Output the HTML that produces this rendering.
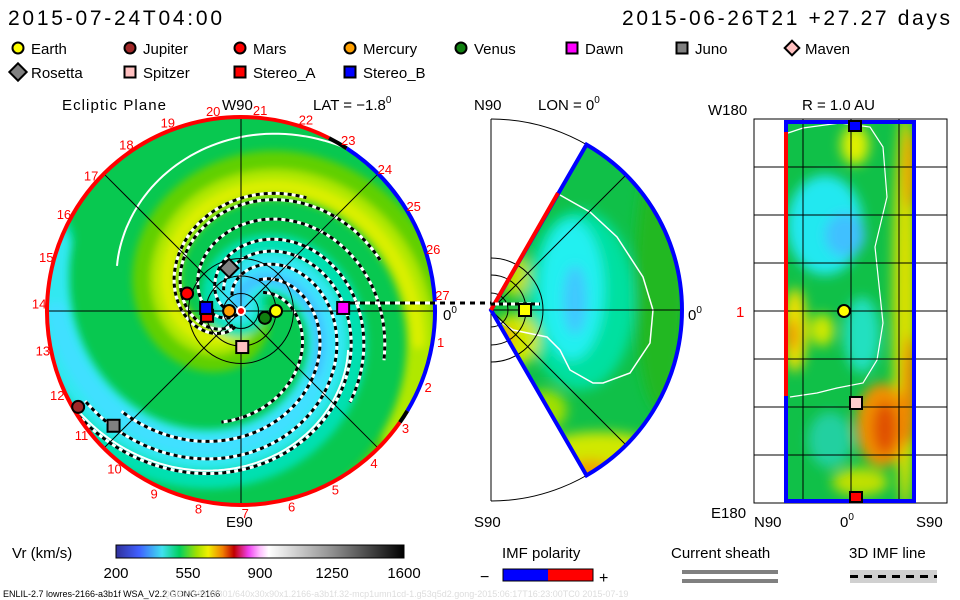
<!DOCTYPE html>
<html><head><meta charset="utf-8"><style>
html,body{margin:0;padding:0;background:#fff;}
svg{display:block;font-family:"Liberation Sans","DejaVu Sans",sans-serif;}
</style></head><body>
<svg id="chart" width="960" height="600" viewBox="0 0 960 600">
<defs>
  <clipPath id="diskClip"><circle cx="241" cy="311" r="194"/></clipPath>
  <clipPath id="wedgeClip"><path d="M491,310 L586.5,144.6 A191,191 0 0 1 586.5,475.4 Z"/></clipPath>
  <clipPath id="rectClip"><rect x="785" y="122" width="130" height="380"/></clipPath>
  <filter id="blur6" x="-50%" y="-50%" width="200%" height="200%"><feGaussianBlur stdDeviation="6"/></filter>
  <filter id="blur3" x="-50%" y="-50%" width="200%" height="200%"><feGaussianBlur stdDeviation="4"/></filter>
  <linearGradient id="cbar" x1="0" x2="1" y1="0" y2="0">
    <stop offset="0" stop-color="#30309a"/><stop offset="0.08" stop-color="#4060ff"/>
    <stop offset="0.16" stop-color="#40e0f0"/><stop offset="0.22" stop-color="#00d060"/>
    <stop offset="0.28" stop-color="#a0e000"/><stop offset="0.32" stop-color="#f0f000"/>
    <stop offset="0.37" stop-color="#f08000"/><stop offset="0.41" stop-color="#c00000"/>
    <stop offset="0.46" stop-color="#f040f0"/><stop offset="0.5" stop-color="#ffc0ff"/>
    <stop offset="0.53" stop-color="#ffffff"/><stop offset="0.75" stop-color="#909090"/>
    <stop offset="1" stop-color="#000000"/>
  </linearGradient>
</defs>

<text x="8" y="25" font-size="21" textLength="214">2015-07-24T04:00</text>
<text x="622" y="25" font-size="21" textLength="328">2015-06-26T21 +27.27 days</text>

<g id="legend" font-size="15"></g>

<text x="62" y="110" font-size="15" textLength="104">Ecliptic Plane</text>
<text x="222" y="110" font-size="15">W90</text>
<text x="313" y="110" font-size="15">LAT = −1.8<tspan font-size="10" dy="-7">0</tspan></text>
<text x="474" y="110" font-size="15">N90</text>
<text x="538" y="110" font-size="15">LON = 0<tspan font-size="10" dy="-7">0</tspan></text>
<text x="708" y="115" font-size="15">W180</text>
<text x="802" y="110" font-size="15">R = 1.0 AU</text>

<g id="disk">
  <g clip-path="url(#diskClip)">
    <circle cx="241" cy="311" r="194" fill="#08c850"/>
    <g id="bands"></g>
    <g id="dashes"></g>
  </g>
  <g id="diskGrid" stroke="#000" stroke-width="1"></g>
  <g id="diskBorder"></g>
  <g id="diskLabels" font-size="13" fill="#f00"></g>
  <g id="planets"></g>
</g>
<text x="443" y="320" font-size="15">0<tspan font-size="10" dy="-7">0</tspan></text>
<text x="226" y="527" font-size="15">E90</text>

<g id="wedge">
  <path d="M491,119 A191,191 0 0 1 491,501" fill="none" stroke="#000" stroke-width="1"/>
  <line x1="491" y1="119" x2="491" y2="501" stroke="#000"/>
  <g clip-path="url(#wedgeClip)">
    <rect x="480" y="130" width="210" height="360" fill="#10c048"/>
    <g filter="url(#blur6)">
      <ellipse cx="660" cy="280" rx="25" ry="130" fill="#20b820"/>
      <ellipse cx="580" cy="300" rx="55" ry="90" fill="#00e0a0"/>
      <ellipse cx="572" cy="290" rx="32" ry="70" fill="#20f0f0"/>
      <ellipse cx="575" cy="300" rx="12" ry="35" fill="#40c8ff"/>
      <ellipse cx="600" cy="460" rx="70" ry="28" fill="#d0e800"/>
      <ellipse cx="590" cy="472" rx="25" ry="12" fill="#f0a000"/>
      <ellipse cx="515" cy="340" rx="24" ry="26" fill="#d0e800"/>
      <ellipse cx="503" cy="338" rx="10" ry="12" fill="#f0a000"/>
      <ellipse cx="515" cy="275" rx="14" ry="22" fill="#c0e000"/>
      <ellipse cx="545" cy="410" rx="22" ry="20" fill="#a0e000"/>
    </g>
    <path d="M560,195 L590,212 L617,237 L643,277 L653,310 L650,343 L630,373 L603,383 L593,383 L570,370 L560,350 L547,337 L513,330 L493,317" fill="none" stroke="#fff" stroke-width="1.5"/>
    <line x1="491" y1="310" x2="626" y2="175" stroke="#000"/>
    <line x1="491" y1="310" x2="626" y2="445" stroke="#000"/>
    <line x1="491" y1="310" x2="682" y2="310" stroke="#000"/>
  </g>
  <g fill="none" stroke="#000" stroke-width="1">
    <path d="M491,293 A17,17 0 0 1 491,327"/>
    <path d="M491,275 A35,35 0 0 1 491,345"/>
    <path d="M491,258 A52,52 0 0 1 491,362"/>
  </g>
  <path d="M491,310 L586.5,144.6 A191,191 0 0 1 586.5,475.4 Z" fill="none" stroke="#00f" stroke-width="4"/>
  <line x1="491" y1="310" x2="558" y2="193" stroke="#f00" stroke-width="4"/>
  <line x1="491" y1="304" x2="540" y2="304" stroke="#fff" stroke-width="3"/>
  <line x1="491" y1="304" x2="540" y2="304" stroke="#000" stroke-width="3" stroke-dasharray="4,4"/>
  <rect x="519" y="304" width="12" height="12" fill="#ff0" stroke="#000" stroke-width="2"/>
</g>
<text x="688" y="320" font-size="15">0<tspan font-size="10" dy="-7">0</tspan></text>
<text x="474" y="527" font-size="15">S90</text>

<g id="rpanel">
  <g clip-path="url(#rectClip)">
    <rect x="785" y="122" width="130" height="380" fill="#10c048"/>
    <g filter="url(#blur6)">
      <ellipse cx="905" cy="310" rx="12" ry="200" fill="#d8e000"/>
      <ellipse cx="910" cy="170" rx="7" ry="40" fill="#f0a000"/>
      <ellipse cx="910" cy="390" rx="7" ry="55" fill="#f08000"/>
      <ellipse cx="825" cy="225" rx="38" ry="50" fill="#20e8f0"/>
      <ellipse cx="845" cy="235" rx="20" ry="22" fill="#40c0ff"/>
      <ellipse cx="855" cy="145" rx="14" ry="20" fill="#e0f000"/>
      <ellipse cx="795" cy="330" rx="12" ry="42" fill="#f0e000"/>
      <ellipse cx="792" cy="335" rx="6" ry="16" fill="#f09000"/>
      <ellipse cx="822" cy="330" rx="12" ry="16" fill="#d0e800"/>
      <ellipse cx="862" cy="335" rx="18" ry="38" fill="#20e0c0"/>
      <ellipse cx="882" cy="425" rx="26" ry="42" fill="#f09000"/>
      <ellipse cx="885" cy="428" rx="12" ry="26" fill="#e05000"/>
      <ellipse cx="830" cy="440" rx="22" ry="28" fill="#20d0a0"/>
      <ellipse cx="860" cy="482" rx="28" ry="14" fill="#c0e000"/>
    </g>
    <path d="M788,133 L803,128 L840,123 L870,127 L883,147 L887,197 L875,247 L883,323 L877,360 L863,383 L837,388 L817,393 L790,397" fill="none" stroke="#fff" stroke-width="1.2"/>
  </g>
  <g id="rgrid" stroke="#000" stroke-width="1"></g>
  <rect x="754" y="119" width="193" height="384" fill="none" stroke="#000"/>
  <rect x="786" y="122" width="128" height="379" fill="none" stroke="#00f" stroke-width="4"/>
  <line x1="786" y1="132" x2="786" y2="396" stroke="#f00" stroke-width="4"/>
  <rect x="849" y="121" width="12" height="10" fill="#00f" stroke="#000" stroke-width="2"/>
  <circle cx="844" cy="311" r="6" fill="#ff0" stroke="#000" stroke-width="2"/>
  <rect x="850" y="397" width="12" height="12" fill="#fcc" stroke="#000" stroke-width="2"/>
  <rect x="850" y="492" width="12" height="10" fill="#f00" stroke="#000" stroke-width="2"/>
</g>
<text x="736" y="317" font-size="15" fill="#f00">1</text>
<text x="711" y="518" font-size="15">E180</text>
<text x="754" y="527" font-size="15">N90</text>
<text x="840" y="527" font-size="15">0<tspan font-size="10" dy="-7">0</tspan></text>
<text x="916" y="527" font-size="15">S90</text>

<text x="12" y="558" font-size="15">Vr (km/s)</text>
<rect x="116" y="545" width="288" height="13" fill="url(#cbar)" stroke="#000"/>
<g id="cbTicks" font-size="15" text-anchor="middle"></g>
<text x="502" y="558" font-size="15">IMF polarity</text>
<text x="480" y="582" font-size="16">−</text>
<rect x="503" y="569" width="45" height="12" fill="#00f"/>
<rect x="548" y="569" width="45" height="12" fill="#f00"/>
<rect x="503" y="569" width="90" height="12" fill="none" stroke="#000"/>
<text x="599" y="583" font-size="16">+</text>
<text x="671" y="558" font-size="15">Current sheath</text>
<rect x="682" y="570" width="96" height="4" fill="#808080"/>
<rect x="682" y="579" width="96" height="4" fill="#808080"/>
<text x="849" y="558" font-size="15">3D IMF line</text>
<rect x="850" y="570" width="87" height="13" fill="#d0d0d0"/>
<line x1="850" y1="576.5" x2="937" y2="576.5" stroke="#000" stroke-width="3" stroke-dasharray="8,6"/>
<text x="3" y="597" font-size="9">ENLIL-2.7 lowres-2166-a3b1f WSA_V2.2 GONG-2166</text>
<text x="163" y="597" font-size="9" fill="#ddd">QUE0719102801/640x30x90x1.2166-a3b1f.32-mcp1umn1cd-1.g53q5d2.gong-2015:06:17T16:23:00TC0    2015-07-19</text>
</svg>
<script>
// ---- data ----
const objNames = ["Earth","Jupiter","Mars","Mercury","Venus","Dawn","Juno","Maven","Rosetta","Spitzer","Stereo_A","Stereo_B"];
const objShapes = ["circle","circle","circle","circle","circle","square","square","diamond","diamond","square","square","square"];
const objColors = ["#ffff00","#a02828","#ff0000","#ffa000","#108010","#ff00ff","#808080","#ffc0c0","#808080","#ffc0c0","#ff0000","#0000ff"];
const plNames = ["Earth","Venus","Mercury","Mars","Jupiter","Rosetta","Juno","Dawn","Spitzer","Stereo_A","Stereo_B"];
const plDist  = [1.0, 0.71, 0.34, 1.62, 5.4, 1.27, 4.9, 2.92, 1.03, 0.98, 1.0];
const plLon   = [0, -16, 180, 162, 210.5, 105.5, 222, 1.7, -88, 188, 175];
const cbTickValues = [200, 550, 900, 1250, 1600];
const rotationLabels = [1,2,3,4,5,6,7,8,9,10,11,12,13,14,15,16,17,18,19,20,21,22,23,24,25,26,27];
const refRings = [0.5, 1.0, 1.5];
// spiral speed bands: phase (deg), end angle, colour, width
const bandPhase = [310, 295, 290, 150, 135, 128, 120];
const bandEnd   = [-60, -40, -10, -200, -200, -180, -40];
const bandColor = ["#60d000","#b0e800","#dcf000","#00e0b0","#30e8f0","#40e0ff","#40c0ff"];
const bandWidth = [48, 28, 12, 60, 38, 20, 10];
// dashed IMF spirals: phase, start angle, end angle
const dashPhase = [197, 233, 267, 278, 150, 175, 120, 88];
const dashStart = [180, 225, 240, 250, 120, 130, 60, 40];
const dashEnd   = [-40, -20, 20, 60, -150, -160, -140, -100];

const NS = "http://www.w3.org/2000/svg";
const CX = 241, CY = 311, R = 194, PX_PER_AU = 35, K = 0.6;
function mk(tag, attrs, parent){const e=document.createElementNS(NS,tag);for(const k in attrs)e.setAttribute(k,attrs[k]);parent.appendChild(e);return e;}
function xOf(r,a){return CX + r*Math.cos(a*Math.PI/180);}
function yOf(r,a){return CY - r*Math.sin(a*Math.PI/180);}
function spiral(phase,a0,a1){const pts=[];for(let a=a0;a>=a1;a-=2){const r=K*(phase-a);if(r<3||r>R+40)continue;pts.push(xOf(r,a).toFixed(1)+","+yOf(r,a).toFixed(1));}return pts.join(" ");}

const bands=document.getElementById("bands");
const bg=mk("g",{filter:"url(#blur3)"},bands);
for(let i=0;i<bandPhase.length;i++){
  const el=mk("polyline",{points:spiral(bandPhase[i],bandPhase[i]-10,bandEnd[i]),fill:"none",stroke:bandColor[i],"stroke-width":bandWidth[i],"stroke-linecap":"round"},bg);
  
  
}
const w1=mk("polyline",{points:spiral(380,160,-10),fill:"none",stroke:"#fff","stroke-width":2},bands);


const w2=mk("polyline",{points:spiral(170,-20,-170),fill:"none",stroke:"#fff","stroke-width":2},bands);


const dashes=document.getElementById("dashes");
for(let i=0;i<dashPhase.length;i++){
  const p=spiral(dashPhase[i],dashStart[i],dashEnd[i]);
  mk("polyline",{points:p,fill:"none",stroke:"#fff","stroke-width":3},dashes);
  const d=mk("polyline",{points:p,fill:"none",stroke:"#000","stroke-width":3,"stroke-dasharray":"4,4"},dashes);
  
  
}
mk("line",{x1:350,y1:303,x2:491,y2:303,stroke:"#fff","stroke-width":3},document.getElementById("disk"));
const dl=mk("line",{x1:350,y1:303,x2:491,y2:303,stroke:"#000","stroke-width":3,"stroke-dasharray":"5,5"},document.getElementById("disk"));



const dg=document.getElementById("diskGrid");
for(const a of [0,45,90,135]){mk("line",{x1:xOf(R,a),y1:yOf(R,a),x2:xOf(R,a+180),y2:yOf(R,a+180)},dg);}
for(const rr of refRings){mk("circle",{cx:CX,cy:CY,r:rr*PX_PER_AU,fill:"none"},dg);}
const db=document.getElementById("diskBorder");
function arc(a0,a1){const large=Math.abs(a1-a0)>180?1:0;return `M${xOf(R,a0)},${yOf(R,a0)} A${R},${R} 0 ${large} ${a1<a0?1:0} ${xOf(R,a1)},${yOf(R,a1)}`;}
const rb=mk("path",{d:arc(-35,-297),fill:"none",stroke:"#f00","stroke-width":4},db);


const bb=mk("path",{d:arc(57,-31),fill:"none",stroke:"#00f","stroke-width":4},db);


mk("path",{d:arc(63,57),fill:"none",stroke:"#000","stroke-width":4},db);
mk("path",{d:arc(-31,-35),fill:"none",stroke:"#000","stroke-width":4},db);
const dlab=document.getElementById("diskLabels");
rotationLabels.forEach(k=>{
  const a=4.6+(27-k)*13.33;
  const t=mk("text",{x:xOf(R+8,a),y:yOf(R+8,a)+5,"text-anchor":"middle"},dlab);
  t.textContent=k;
  
  
});
function marker(parent,shape,color,x,y,s){
  if(shape==="circle") return mk("circle",{cx:x,cy:y,r:s/2,fill:color,stroke:"#000","stroke-width":2},parent);
  if(shape==="square") return mk("rect",{x:x-s/2,y:y-s/2,width:s,height:s,fill:color,stroke:"#000","stroke-width":2},parent);
  return mk("path",{d:`M${x},${y-s/1.5} L${x+s/1.5},${y} L${x},${y+s/1.5} L${x-s/1.5},${y} Z`,fill:color,stroke:"#000","stroke-width":2},parent);
}
const pg=document.getElementById("planets");
mk("circle",{cx:CX,cy:CY,r:4,fill:"#f00",stroke:"#fff","stroke-width":2},pg);
plNames.forEach((n,i)=>{
  const j=objNames.indexOf(n);
  const r=plDist[i]*PX_PER_AU;
  const m=marker(pg,objShapes[j],objColors[j],xOf(r,plLon[i]),yOf(r,plLon[i]),n==="Rosetta"?14:12);
  
  
});
const lg=document.getElementById("legend");
const legX=[18,130,240,350,461,572,682,792];
objNames.forEach((n,i)=>{
  const row=i<8?0:1, col=i<8?i:i-8;
  const x=legX[col], y=row?72:48;
  const m=marker(lg,objShapes[i],objColors[i],x,y,n==="Rosetta"?13:11);
  
  
  const t=mk("text",{x:x+13,y:y+6},lg);
  t.textContent=n;
  
  
});
const rg=document.getElementById("rgrid");
for(let i=1;i<8;i++){mk("line",{x1:754,x2:947,y1:119+i*48,y2:119+i*48},rg);}
for(const x of [803,851,899]){mk("line",{x1:x,x2:x,y1:119,y2:503},rg);}
const cbt=document.getElementById("cbTicks");
cbTickValues.forEach(v=>{
  const x=116+(v-200)/(1600-200)*288;
  const t=mk("text",{x:x,y:578},cbt);
  t.textContent=v;
  
  
});
</script>
</body></html>
